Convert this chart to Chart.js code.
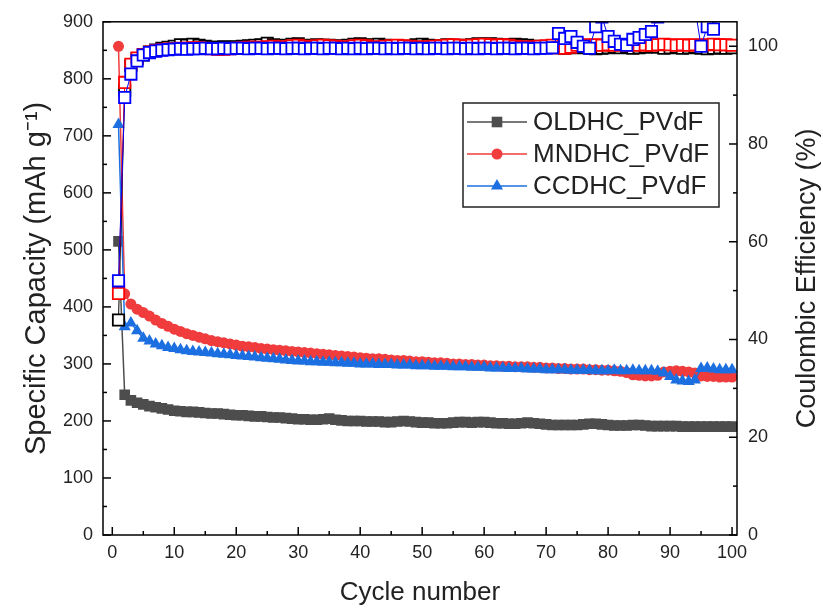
<!DOCTYPE html>
<html><head><meta charset="utf-8">
<script src="https://cdn.jsdelivr.net/npm/chart.js@4"></script>
<style>html,body{margin:0;padding:0;background:#fff}</style>
</head><body>
<canvas id="c" width="823" height="613"></canvas>
<script>
const cycles=[1,2,3,4,5,6,7,8,9,10,11,12,13,14,15,16,17,18,19,20,21,22,23,24,25,26,27,28,29,30,31,32,33,34,35,36,37,38,39,40,41,42,43,44,45,46,47,48,49,50,51,52,53,54,55,56,57,58,59,60,61,62,63,64,65,66,67,68,69,70,71,72,73,74,75,76,77,78,79,80,81,82,83,84,85,86,87,88,89,90,91,92,93,94,95,96,97,98,99,100];
const seriesNames=['OLDHC_PVdF','MNDHC_PVdF','CCDHC_PVdF'];
// Specific capacity (mAh g-1)
const capOLDHC=[515,246,236,232,229,226,224,222,220,218,217,216,216,215,214,213,213,212,211,210,210,209,208,208,207,206,206,205,204,203,203,202,202,203,204,202,201,200,200,200,199,199,199,198,198,199,200,199,198,197,197,196,196,196,197,198,198,197,198,198,197,196,196,195,195,196,197,196,195,194,193,193,193,193,193,194,195,195,194,193,192,192,192,193,193,192,191,191,191,191,191,190,190,190,190,190,190,190,190,190];
const capMNDHC=[857,423,405,396,390,384,377,371,366,361,357,353,350,347,344,341,339,337,335,333,331,330,329,327,326,325,324,323,322,321,320,319,318,317,316,315,314,313,312,311,310,309,309,308,307,306,306,305,304,304,303,302,302,301,300,300,299,299,298,298,297,297,296,296,295,295,295,294,294,293,293,292,292,291,291,291,290,290,289,289,288,287,285,281,280,279,279,280,286,287,288,287,286,284,279,278,278,277,277,277];
const capCCDHC=[720,365,372,358,345,340,335,332,329,327,325,323,322,321,320,319,318,317,316,315,314,313,312,311,310,309,308,307,306,305,305,304,304,303,303,302,302,301,301,300,300,300,299,299,299,298,298,298,297,297,297,296,296,296,295,295,295,294,294,294,293,293,293,292,292,292,291,291,291,290,290,290,290,289,289,289,289,288,288,288,289,288,288,289,288,288,288,287,284,278,272,270,269,272,292,293,291,290,290,290];
// Coulombic efficiency (%)
const ceOLDHC=[44,91,96,97.5,98.2,98.8,99.2,99.6,99.8,100,100.3,100.2,100.4,100.2,100,99.8,99.8,99.9,99.8,99.9,100,100.1,100.2,100.3,100.6,100.3,100.1,100.2,100.4,100.5,100.2,100.1,100.3,100.2,100.2,100,100.1,100.2,100.4,100.5,100.3,100.2,100.4,100.2,99.8,99.6,99.8,100,100.3,100.4,100.2,100.1,100,100.3,100.2,100.1,100.2,100.3,100.5,100.4,100.5,100.4,100.2,100.3,100.4,100.3,100.2,100,99.8,99.9,99.8,99.7,99.6,99.8,99.7,99.8,99.6,99.5,99.6,99.7,99.8,99.7,99.8,99.6,99.7,99.8,100.2,99.8,99.6,99.7,99.8,99.6,99.7,99.8,99.6,99.5,99.6,99.7,99.6,99.7];
const ceMNDHC=[49.4,92.6,96.3,97.6,98.3,98.8,99.1,99.3,99.4,99.5,99.6,99.6,99.7,99.7,99.6,99.5,99.4,99.4,99.5,99.6,99.7,99.8,99.8,99.8,99.9,100,99.9,99.8,100.1,100.2,100,99.9,100.1,100.2,100.1,100,99.9,99.8,100.1,100.2,100.1,99.9,99.8,100,100.1,100.2,100.1,100,99.9,99.8,99.9,100,100.1,100.2,100.3,100.2,100.1,100.2,100.3,100.4,100.3,100.2,100.3,100.2,100,99.9,99.8,99.9,100,100.1,100.2,99.7,99.6,99.8,100.2,100.3,100.2,100.3,100.2,100.3,100.2,100.3,100.2,100.3,100.2,100.3,100.2,100.3,100.4,100.3,100.2,100.3,100.2,100.3,100.2,100.3,100.4,100.3,100.3,100.2];
const ceCCDHC=[52,89.5,94.3,97,98.2,98.7,99,99.2,99.3,99.4,99.5,99.4,99.5,99.5,99.6,99.5,99.5,99.6,99.5,99.6,99.6,99.5,99.6,99.6,99.5,99.6,99.6,99.5,99.6,99.6,99.5,99.6,99.6,99.5,99.6,99.6,99.5,99.6,99.5,99.6,99.5,99.6,99.6,99.5,99.6,99.5,99.6,99.6,99.5,99.6,99.5,99.6,99.6,99.5,99.6,99.6,99.5,99.6,99.5,99.6,99.6,99.5,99.6,99.6,99.5,99.6,99.6,99.5,99.6,99.6,99.7,102.6,101.6,102,100.8,100,99.6,104,106,102,101,100.4,100.2,101.4,101.8,102.4,103,106,108,109,109,108,109,108,100,104,103.5,108,109,109];
// axis ticks
const xTicks=[0,10,20,30,40,50,60,70,80,90,100];
const xMinorTicks=[5,15,25,35,45,55,65,75,85,95];
const yTicks=[0,100,200,300,400,500,600,700,800,900];
const yMinorTicks=[50,150,250,350,450,550,650,750,850];
const y1Ticks=[0,20,40,60,80,100];
const y1MinorTicks=[10,30,50,70,90];

const FONT="'Liberation Sans', Arial, sans-serif";
const TXT='#222';
Chart.defaults.font.family=FONT;

const pts=(arr)=>cycles.map((c,i)=>({x:c,y:arr[i]}));
const capStyles=[
  {color:'#4d4d4d',style:'rect',r:7.5},
  {color:'#f03c3c',style:'circle',r:5.5},
  {color:'#1c6fe0',style:'triangle',r:7}
];
const ceColors=['#000000','#ff0000','#0000ff'];
const capData=[capOLDHC,capMNDHC,capCCDHC];
const ceData=[ceOLDHC,ceMNDHC,ceCCDHC];

const datasets=[];
capData.forEach((d,i)=>{
  const s=capStyles[i];
  datasets.push({label:seriesNames[i],data:pts(d),yAxisID:'y',borderColor:s.color,backgroundColor:s.color,
    borderWidth:1.5,pointStyle:s.style,pointRadius:s.r,pointBorderWidth:0,pointBackgroundColor:s.color,
    tension:0,order:10-i});
});
ceData.forEach((d,i)=>{
  datasets.push({label:seriesNames[i]+' CE',data:pts(d),yAxisID:'y1',borderColor:ceColors[i],backgroundColor:'#ffffff',
    borderWidth:1,pointStyle:'rect',pointRadius:8,pointBorderWidth:1.8,pointBorderColor:ceColors[i],pointBackgroundColor:'#ffffff',
    tension:0,order:5-i});
});

const framePlugin={
  id:'frame',
  afterDraw(chart){
    const {ctx,chartArea:a,scales}=chart;
    const x=scales.x,y=scales.y,y1=scales.y1;
    ctx.save();
    ctx.strokeStyle='#000';ctx.lineWidth=1.5;
    ctx.strokeRect(a.left,a.top,a.right-a.left,a.bottom-a.top);
    const ln=(x1,yy1,x2,yy2)=>{ctx.beginPath();ctx.moveTo(x1,yy1);ctx.lineTo(x2,yy2);ctx.stroke();};
    xTicks.forEach(v=>{const p=x.getPixelForValue(v);ln(p,a.bottom,p,a.bottom-8);});
    xMinorTicks.forEach(v=>{const p=x.getPixelForValue(v);ln(p,a.bottom,p,a.bottom-4);});
    yTicks.forEach(v=>{const p=y.getPixelForValue(v);ln(a.left,p,a.left+8,p);});
    yMinorTicks.forEach(v=>{const p=y.getPixelForValue(v);ln(a.left,p,a.left+4,p);});
    y1Ticks.forEach(v=>{const p=y1.getPixelForValue(v);ln(a.right,p,a.right-8,p);});
    y1MinorTicks.forEach(v=>{const p=y1.getPixelForValue(v);ln(a.right,p,a.right-4,p);});
    // right axis title (reads bottom to top)
    ctx.fillStyle=TXT;ctx.font='27px '+FONT;ctx.textAlign='center';ctx.textBaseline='middle';
    ctx.translate(808,(a.top+a.bottom)/2);ctx.rotate(-Math.PI/2);
    ctx.fillText('Coulombic Efficiency (%)',0,0);
    ctx.restore();
  }
};

const legendPlugin={
  id:'boxLegend',
  afterDraw(chart){
    const ctx=chart.ctx;
    const bx=463,by=103,bw=256,bh=104;
    ctx.save();
    ctx.fillStyle='#fff';ctx.fillRect(bx,by,bw,bh);
    ctx.strokeStyle='#222';ctx.lineWidth=1.5;ctx.strokeRect(bx,by,bw,bh);
    const rows=[122,154,186];
    seriesNames.forEach((name,i)=>{
      const s=capStyles[i];const yy=rows[i];
      ctx.strokeStyle=s.color;ctx.lineWidth=1.5;
      ctx.beginPath();ctx.moveTo(bx+4,yy);ctx.lineTo(bx+64,yy);ctx.stroke();
      ctx.fillStyle=s.color;
      Chart.helpers.drawPoint(ctx,{pointStyle:s.style,radius:s.r,rotation:0,borderWidth:0},bx+34,yy);
      ctx.fillStyle=TXT;ctx.font='26px '+FONT;ctx.textAlign='left';ctx.textBaseline='middle';
      ctx.fillText(name,bx+70,yy+1);
    });
    ctx.restore();
  }
};

new Chart(document.getElementById('c'),{
  type:'line',
  data:{datasets},
  options:{
    responsive:false,animation:false,devicePixelRatio:1,
    layout:{padding:{top:20,left:0,right:0,bottom:0}},
    plugins:{legend:{display:false},tooltip:{enabled:false}},
    scales:{
      x:{type:'linear',position:'bottom',min:-1.5,max:100.8,
        afterBuildTicks(s){s.ticks=xTicks.map(v=>({value:v}));},
        afterFit(s){s.height=78;},
        grid:{display:false,drawTicks:false},border:{display:false},
        ticks:{font:{size:18},color:TXT,padding:7,maxRotation:0,autoSkip:false},
        title:{display:true,text:'Cycle number',font:{size:26},color:TXT,padding:{top:0,bottom:5}}},
      y:{type:'linear',position:'left',min:0,max:900,
        afterBuildTicks(s){s.ticks=yTicks.map(v=>({value:v}));},
        afterFit(s){s.width=103;},
        grid:{display:false,drawTicks:false},border:{display:false},
        ticks:{font:{size:18},color:TXT,padding:10,autoSkip:false},
        title:{display:true,text:'Specific Capacity (mAh g\u207B\u00B9)',font:{size:29},color:TXT,padding:{top:20,bottom:0}}},
      y1:{type:'linear',position:'right',min:0,max:105,
        afterBuildTicks(s){s.ticks=y1Ticks.map(v=>({value:v}));},
        afterFit(s){s.width=86;},
        grid:{display:false,drawTicks:false},border:{display:false},
        ticks:{font:{size:18},color:TXT,padding:11,autoSkip:false},
        title:{display:false}}
    }
  },
  plugins:[framePlugin,legendPlugin]
});
</script>
</body></html>
